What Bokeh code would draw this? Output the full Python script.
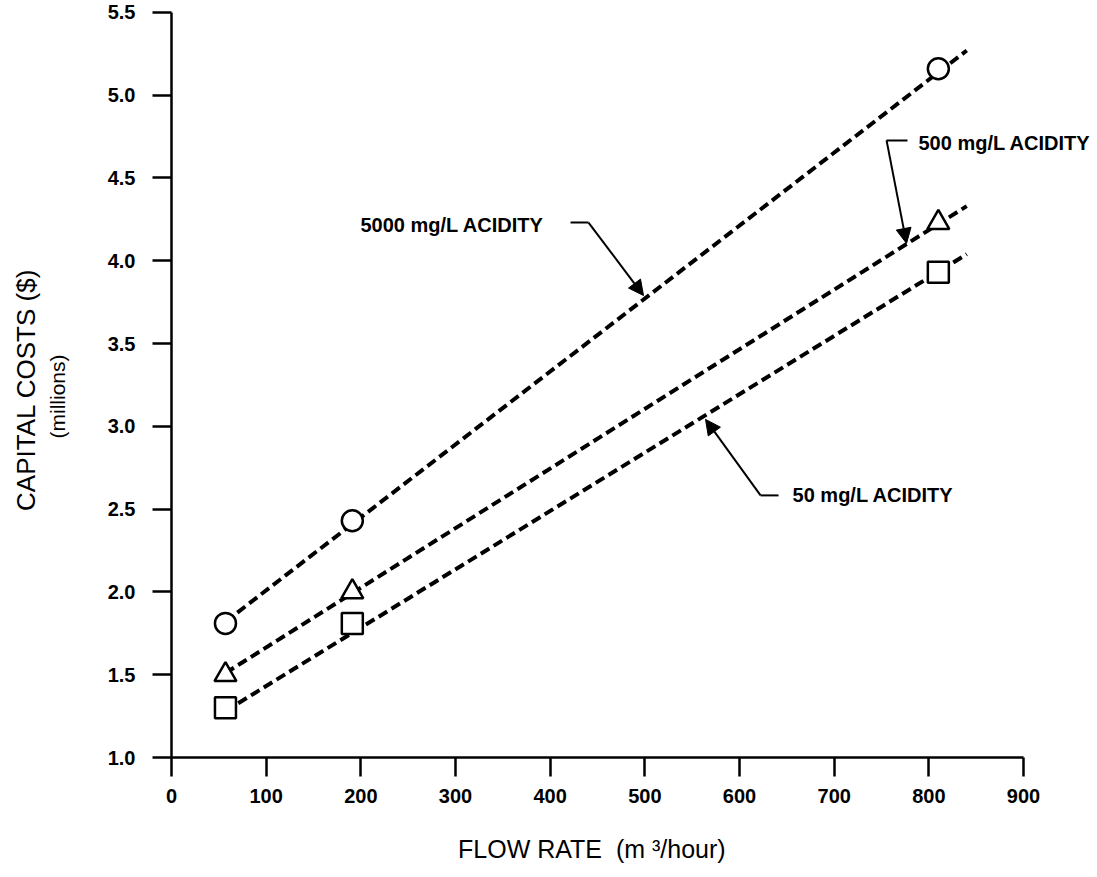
from bokeh.plotting import figure
from bokeh.models import Range1d, Label, Arrow, NormalHead, FixedTicker, Title
from bokeh.embed import file_html
from bokeh.resources import INLINE

# ---- data ----
flow = [57, 191, 810]
cost_5000 = [1.81, 2.43, 5.16]
cost_500 = [1.50, 2.00, 4.23]
cost_50 = [1.30, 1.81, 3.93]

fit_flow = [57, 840]
fit_5000 = [1.82, 5.27]
fit_500 = [1.51, 4.33]
fit_50 = [1.28, 4.04]

x_ticks = [0, 100, 200, 300, 400, 500, 600, 700, 800, 900]
y_ticks = [1.0, 1.5, 2.0, 2.5, 3.0, 3.5, 4.0, 4.5, 5.0, 5.5]

FONT = "Liberation Sans"
NB = "\u00a0"

p = figure(width=1095, height=875, output_backend="svg", toolbar_location=None,
           x_range=Range1d(0, 976), y_range=Range1d(1.0, 5.572),
           min_border_left=171, min_border_right=0, min_border_top=0, min_border_bottom=118)
p.background_fill_color = "white"
p.border_fill_color = "white"
p.outline_line_color = None
p.xgrid.visible = False
p.ygrid.visible = False

for ax in (p.xaxis[0], p.yaxis[0]):
    ax.axis_line_width = 2.5
    ax.major_tick_line_width = 2.5
    ax.major_tick_out = 19
    ax.major_tick_in = 0
    ax.minor_tick_out = 0
    ax.minor_tick_in = 0
    ax.major_label_text_font = FONT
    ax.major_label_text_font_style = "bold"
    ax.major_label_text_font_size = "20px"
    ax.major_label_text_color = "black"
    ax.axis_line_color = "black"
    ax.major_tick_line_color = "black"
    ax.axis_label_text_color = "black"
    ax.axis_label_text_font = FONT
    ax.axis_label_text_font_style = "normal"

p.xaxis.bounds = (0, 900)
p.yaxis.bounds = (1.0, 5.5)
p.xaxis.ticker = FixedTicker(ticks=x_ticks)
p.yaxis.ticker = FixedTicker(ticks=y_ticks)
p.xaxis.major_label_overrides = {t: str(t) for t in x_ticks}
p.yaxis.major_label_overrides = {t: f"{t:.1f}" for t in y_ticks}
p.xaxis.major_label_standoff = 12
p.yaxis.major_label_standoff = 17

# trailing no-break spaces shift the centred titles to the reference position
p.xaxis.axis_label = f"FLOW RATE{NB}{NB}(m{NB}³/hour)" + NB * 12
p.xaxis.axis_label_text_font_size = "25px"
p.xaxis.axis_label_standoff = 29

p.yaxis.axis_label = "(millions)" + NB * 6
p.yaxis.axis_label_text_font_size = "21px"
p.yaxis.axis_label_standoff = 36

p.add_layout(Title(text="CAPITAL COSTS ($)" + NB * 3, align="center", text_font=FONT,
                   text_font_style="normal", text_font_size="26px",
                   text_color="black", standoff=4), "left")

# dashed fit lines
for ys in (fit_5000, fit_500, fit_50):
    p.line(fit_flow, ys, line_color="black", line_width=4, line_dash="10 5")

# markers
mk = dict(size=21, line_color="black", line_width=2.5, fill_color="white")
p.scatter(flow, cost_5000, marker="circle", **mk)
p.scatter(flow, cost_500, marker="triangle", **{**mk, "size": 22})
p.scatter(flow, cost_50, marker="square", **mk)

# annotations (leaders + arrows)
def leader(x0, x1, y, tx, ty):
    p.line([x0, x1], [y, y], line_color="black", line_width=2)
    p.add_layout(Arrow(end=NormalHead(size=15, fill_color="black", line_color="black"),
                       x_start=x1, y_start=y, x_end=tx, y_end=ty,
                       line_color="black", line_width=2))

leader(421.5, 440.5, 4.231, 498.6, 3.79)
leader(777.4, 755.3, 4.727, 776.4, 4.105)
leader(641.2, 622.2, 2.583, 564.1, 3.042)

lab = dict(text_font=FONT, text_font_style="bold", text_font_size="20px",
           text_color="black", text_baseline="middle", text_align="left")
p.add_layout(Label(x=199.6, y=4.219, text="5000 mg/L ACIDITY", **lab))
p.add_layout(Label(x=789, y=4.709, text="500 mg/L ACIDITY", **lab))
p.add_layout(Label(x=656, y=2.583, text="50 mg/L ACIDITY", **lab))

open("out.html", "w").write(file_html(p, INLINE))
